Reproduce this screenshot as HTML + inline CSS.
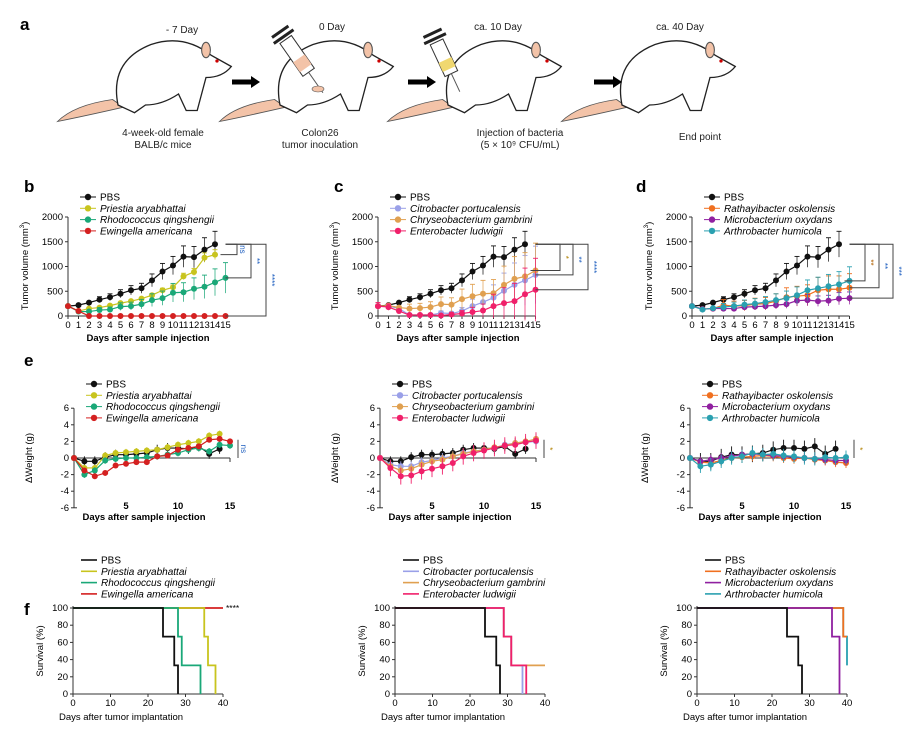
<!DOCTYPE html>
<html><head><meta charset="utf-8"><style>
body{margin:0;background:#fff;}
svg{display:block;font-family:"Liberation Sans",Arial,sans-serif;}
</style></head><body>
<svg id="s" width="918" height="735" viewBox="0 0 918 735" xmlns="http://www.w3.org/2000/svg">
<rect width="918" height="735" fill="#fff"/>
<g font-weight="bold" font-size="17">
<text x="20" y="30">a</text><text x="24" y="192">b</text><text x="334" y="192">c</text><text x="636" y="192">d</text><text x="24" y="366">e</text><text x="24" y="615">f</text>
</g>
<g font-size="10" text-anchor="middle" fill="#222">
<text x="182" y="33">- 7 Day</text><text x="332" y="30">0 Day</text><text x="498" y="30">ca. 10 Day</text><text x="680" y="30">ca. 40 Day</text>
<text x="163" y="136">4-week-old  female</text><text x="163" y="148">BALB/c mice</text>
<text x="320" y="136">Colon26</text><text x="320" y="148">tumor inoculation</text>
<text x="520" y="136">Injection of bacteria</text><text x="520" y="148">(5 × 10⁹ CFU/mL)</text>
<text x="700" y="140">End point</text>
</g>
<g id="mice"></g>
</svg>
<script>
const s=document.getElementById('s');
function mouse(cx,cy){
 return `<g transform="translate(${cx},${cy}) scale(1.1)">
 <path d="M-5,25 Q-40,30 -55,45 Q-30,40 5,32z" fill="#f3c3a8" stroke="#555" stroke-width="0.8"/>
 <path d="M0,30 Q-8,-10 30,-25 Q60,-35 85,-15 L103,-5 Q95,5 80,5 L72,35 L62,35 L55,20 Q40,30 25,30 L15,37 Z" fill="#fff" stroke="#222" stroke-width="1.2"/>
 <ellipse cx="80" cy="-20" rx="4" ry="7" fill="#f3c3a8" stroke="#555"/>
 <circle cx="90" cy="-10" r="1.5" fill="#c00"/></g>`;
}
let m='';
m+=mouse(118,72)+mouse(280,72)+mouse(448,72)+mouse(622,72);
[[232,82],[408,82],[594,82]].forEach(([x,y])=>{m+=`<rect x="${x}" y="${y-2.5}" width="20" height="5" fill="#000"/><polygon points="${x+19},${y-6} ${x+28},${y} ${x+19},${y+6}" fill="#000"/>`});
m+=`<g transform="rotate(-35 300 60)"><rect x="293" y="35" width="14" height="40" fill="#fff" stroke="#333"/><rect x="293" y="58" width="14" height="12" fill="#f3c3a8"/><rect x="288" y="30" width="24" height="3" fill="#222"/><rect x="290" y="24" width="20" height="3" fill="#222"/><line x1="300" y1="75" x2="300" y2="100" stroke="#555"/></g><ellipse cx="318" cy="89" rx="6" ry="3" fill="#f3c3a8" stroke="#555" stroke-width=".6"/>`;
m+=`<g transform="rotate(-25 445 60)"><rect x="438" y="40" width="14" height="35" fill="#fff" stroke="#333"/><rect x="438" y="60" width="14" height="10" fill="#f0d870"/><rect x="433" y="35" width="24" height="3" fill="#222"/><rect x="435" y="29" width="20" height="3" fill="#222"/><line x1="445" y1="75" x2="445" y2="95" stroke="#555"/></g>`;
document.getElementById('mice').outerHTML=m;

const C={k:'#111',y:'#c8c41e',g:'#1aa878',r:'#d42020',p:'#9aa0e8',o:'#e0a050',m:'#f0206a',or:'#f07020',pu:'#9020a0',t:'#2aa0b0'};
let o='';
function txt(x,y,t,a,sz,extra){o+=`<text x="${x}" y="${y}" font-size="${sz||9}" text-anchor="${a||'middle'}" ${extra||''}>${t}</text>`;}
function legend(x,y,items,dots){items.forEach((it,i)=>{const yy=y+i*11.3;o+=`<line x1="${x}" y1="${yy}" x2="${x+16}" y2="${yy}" stroke="${it[1]}" stroke-width="${dots?1:1.6}"/>`;if(dots)o+=`<circle cx="${x+8}" cy="${yy}" r="3.2" fill="${it[1]}"/>`;txt(x+20,yy+3.5,it[0],'start',10,i?'font-style="italic"':'');});}
function vol(X,Y0,series,leg,br){
 const px=d=>X+d*10.5, py=v=>Y0-v*0.0495;
 o+=`<line x1="${X}" y1="${py(2000)}" x2="${X}" y2="${Y0}" stroke="#333"/><line x1="${X}" y1="${Y0}" x2="${px(15)}" y2="${Y0}" stroke="#333"/>`;
 [0,500,1000,1500,2000].forEach(v=>{o+=`<line x1="${X-3}" y1="${py(v)}" x2="${X}" y2="${py(v)}" stroke="#333"/>`;txt(X-5,py(v)+3,v,'end',9.5);});
 for(let d=0;d<=15;d++){o+=`<line x1="${px(d)}" y1="${Y0}" x2="${px(d)}" y2="${Y0+3}" stroke="#333"/>`;txt(px(d),Y0+12,d,'middle',9.5);}
 txt(X+80,Y0+25,'Days after sample injection','middle',9.5,'font-weight="bold"');
 o+=`<text transform="translate(${X-40},${Y0-50}) rotate(-90)" font-size="9.5" text-anchor="middle">Tumor volume (mm<tspan font-size="6" dy="-4">3</tspan><tspan dy="4">)</tspan></text>`;
 series.forEach(([c,vals,err])=>{let pts=vals.map((v,i)=>px(i)+','+py(v)).join(' ');
  vals.forEach((v,i)=>{const e=(err||0)*v*(i>2?1:0.3);if(e>5)o+=`<line x1="${px(i)}" y1="${py(v-e)}" x2="${px(i)}" y2="${py(v+e)}" stroke="${c}" stroke-width=".9" opacity=".8"/><line x1="${px(i)-2.5}" y1="${py(v+e)}" x2="${px(i)+2.5}" y2="${py(v+e)}" stroke="${c}" stroke-width=".9"/>`;});
  o+=`<polyline points="${pts}" fill="none" stroke="${c}" stroke-width="1.2"/>`;vals.forEach((v,i)=>o+=`<circle cx="${px(i)}" cy="${py(v)}" r="3" fill="${c}"/>`);});
 legend(X+12,Y0-119,leg,true);
 br.forEach(([v1,v2,xx,lab,col],i)=>{o+=`<polyline points="${px(15)},${py(v1)} ${xx},${py(v1)} ${xx},${py(v2)} ${px(15)+(i?0:-5)},${py(v2)}" fill="none" stroke="#444"/>`;o+=`<text transform="translate(${xx+3},${(py(v1)+py(v2))/2}) rotate(90)" font-size="8" text-anchor="middle" fill="${col}">${lab}</text>`;});
}
const PBS=[200,220,270,330,380,450,520,560,720,900,1020,1200,1190,1340,1450];
vol(68,316,[[C.k,PBS,.18],[C.y,[200,100,150,170,210,260,300,350,420,520,580,800,890,1180,1240],.08],[C.g,[200,90,90,120,130,190,200,240,320,360,470,480,550,590,680,770],.4],[C.r,[200,100,0,0,0,0,0,0,0,0,0,0,0,0,0,0],0]],
 [['PBS',C.k],['Priestia aryabhattai',C.y],['Rhodococcus qingshengii',C.g],['Ewingella americana',C.r]],
 [[1450,1240,237,'ns','#2060c0'],[1450,770,251,'**','#2060c0'],[1450,0,266,'****','#2060c0']]);
vol(378,316,[[C.k,PBS,.18],[C.p,[200,200,150,20,20,20,60,50,100,200,280,370,510,630,720,830],.7],[C.o,[200,210,170,150,160,180,240,230,340,400,450,460,630,750,800,920],.6],[C.m,[200,180,100,20,20,20,10,30,50,80,110,200,260,300,440,530],1.2]],
 [['PBS',C.k],['Citrobacter portucalensis',C.p],['Chryseobacterium gambrini',C.o],['Enterobacter ludwigii',C.m]],
 [[1450,920,560,'*','#b08000'],[1450,830,573,'**','#2060c0'],[1450,530,588,'****','#2060c0']]);
vol(692,316,[[C.k,PBS,.18],[C.or,[200,140,150,220,200,210,240,250,300,380,400,420,520,540,540,570],.5],[C.pu,[200,140,150,150,150,180,190,200,220,240,310,320,300,310,350,360],.35],[C.t,[200,130,160,180,200,230,250,280,320,360,420,520,560,600,640,710],.4]],
 [['PBS',C.k],['Rathayibacter oskolensis',C.or],['Microbacterium oxydans',C.pu],['Arthrobacter humicola',C.t]],
 [[1450,710,865,'**','#b06000'],[1450,570,879,'**','#2060c0'],[1450,360,893,'***','#2060c0']]);

function wt(X,Y0,series,leg,lab,col){
 const px=d=>X+d*10.4, py=v=>Y0-v*8.3;
 o+=`<line x1="${X}" y1="${py(6)}" x2="${X}" y2="${py(-6)}" stroke="#333"/><line x1="${X}" y1="${Y0}" x2="${px(15)}" y2="${Y0}" stroke="#333"/><line x1="${px(15)}" y1="${Y0}" x2="${px(15)}" y2="${Y0+4}" stroke="#333"/>`;
 [-6,-4,-2,0,2,4,6].forEach(v=>{o+=`<line x1="${X-3}" y1="${py(v)}" x2="${X}" y2="${py(v)}" stroke="#333"/>`;txt(X-5,py(v)+3,v,'end',9.5);});
 o+=`<line x1="${X}" y1="${py(-6)}" x2="${X+3}" y2="${py(-6)}" stroke="#333"/>`;
 [5,10,15].forEach(d=>txt(px(d),py(-6)+1,d,'middle',9.5,'font-weight="bold"'));
 txt(X+70,py(-6)+12,'Days after sample injection','middle',9.5,'font-weight="bold"');
 o+=`<text transform="translate(${X-42},${Y0}) rotate(-90)" font-size="9.5" text-anchor="middle">ΔWeight (g)</text>`;
 series.forEach(([c,vals,e])=>{vals.forEach((v,i)=>{if(i&&e)o+=`<line x1="${px(i)}" y1="${py(v-e)}" x2="${px(i)}" y2="${py(v+e)}" stroke="${c}" stroke-width=".9"/>`;});
  o+=`<polyline points="${vals.map((v,i)=>px(i)+','+py(v)).join(' ')}" fill="none" stroke="${c}" stroke-width="1.2"/>`;vals.forEach((v,i)=>o+=`<circle cx="${px(i)}" cy="${py(v)}" r="3" fill="${c}"/>`);});
 legend(X+12,Y0-74,leg,true);
 o+=`<line x1="${px(15)+8}" y1="${py(2.2)}" x2="${px(15)+8}" y2="${py(0)}" stroke="#444"/>`;
 o+=`<text transform="translate(${px(15)+11},${py(1.1)}) rotate(90)" font-size="8" text-anchor="middle" fill="${col}">${lab}</text>`;
}
const WP=[0,-.4,-.4,.1,.4,.4,.5,.6,1,1.2,1.2,1.1,1.4,.5,1.1];
wt(74,458,[[C.k,WP,.6],[C.y,[0,-1.2,-1.2,.3,.6,.7,.8,.9,1,1.3,1.6,1.8,2,2.7,2.9],.4],[C.g,[0,-2,-1.5,-.3,-.1,0,0,.1,.2,.4,.6,1,1.2,.8,1.6,1.5],.4],[C.r,[0,-1.5,-2.2,-1.8,-.9,-.7,-.5,-.5,.2,.3,1,1.2,1.4,2.2,2.3,2]]],
 [['PBS',C.k],['Priestia aryabhattai',C.y],['Rhodococcus qingshengii',C.g],['Ewingella americana',C.r]],'ns','#2060c0');
wt(380,458,[[C.k,WP,.6],[C.p,[0,-.8,-1,-1,-.5,-.3,0,.2,.6,.8,1,1.2,1.6,1.8,1.9,2],.6],[C.o,[0,-1,-1.5,-1.3,-.8,-.4,-.2,.2,.5,.8,1,1.3,1.5,1.8,2,2.3],.6],[C.m,[0,-1.2,-2.2,-2.1,-1.6,-1.3,-1,-.6,.2,.6,.9,1.2,1.5,1.6,1.9,2.1],1]],
 [['PBS',C.k],['Citrobacter portucalensis',C.p],['Chryseobacterium gambrini',C.o],['Enterobacter ludwigii',C.m]],'*','#b08000');
wt(690,458,[[C.k,WP,1],[C.or,[0,-.5,-.6,-.3,0,.1,.2,.3,.2,0,-.1,0,-.2,-.3,-.5,-.6],.6],[C.pu,[0,-.4,-.2,0,.2,.4,.5,.4,.3,.2,.1,0,-.1,-.2,-.3,-.3],.6],[C.t,[0,-1,-.8,-.4,0,.2,.6,.4,.5,.3,.2,0,-.1,.1,0,.1],.8]],
 [['PBS',C.k],['Rathayibacter oskolensis',C.or],['Microbacterium oxydans',C.pu],['Arthrobacter humicola',C.t]],'*','#b08000');

function surv(X,Y0,series,leg,stars){
 const px=d=>X+d*3.75, py=v=>Y0-v*0.86;
 o+=`<line x1="${X}" y1="${py(100)-2}" x2="${X}" y2="${Y0}" stroke="#333"/><line x1="${X}" y1="${Y0}" x2="${px(40)}" y2="${Y0}" stroke="#333"/>`;
 [0,20,40,60,80,100].forEach(v=>{o+=`<line x1="${X-3}" y1="${py(v)}" x2="${X}" y2="${py(v)}" stroke="#333"/>`;txt(X-5,py(v)+3,v,'end',9.5);});
 [0,10,20,30,40].forEach(d=>{o+=`<line x1="${px(d)}" y1="${Y0}" x2="${px(d)}" y2="${Y0+3}" stroke="#333"/>`;txt(px(d),Y0+12,d,'middle',9.5);});
 txt(X+48,Y0+26,'Days after tumor implantation','middle',9.5);
 o+=`<text transform="translate(${X-30},${Y0-43}) rotate(-90)" font-size="9.5" text-anchor="middle">Survival (%)</text>`;
 series.forEach(([c,steps])=>{let d='M'+px(0)+','+py(100);let v=100;steps.forEach(([t,nv])=>{d+=` L${px(t)},${py(v)} L${px(t)},${py(nv)}`;v=nv;});d+=` L${px(40)},${py(v)}`;if(v==0)d=d.replace(/ L[^ ]+$/,'');o+=`<path d="${d}" fill="none" stroke="${c}" stroke-width="1.8"/>`;});
 legend(X+8,Y0-134,leg,false);
 if(stars)txt(px(40)+3,py(100)+3,'****','start',8.5);
}
const SP=[C.k,[[24,66.7],[27,33.3],[28,0]]];
surv(73,694,[[C.r,[]],[C.y,[[35,66.7],[36,33.3],[38,0]]],[C.g,[[28,66.7],[29,33.3],[34,0]]],SP],
 [['PBS',C.k],['Priestia aryabhattai',C.y],['Rhodococcus qingshengii',C.g],['Ewingella americana',C.r]],true);
surv(395,694,[[C.o,[[29,66.7],[31,33.3]]],[C.p,[[29,66.7],[31,33.3],[34,0]]],[C.m,[[29,66.7],[31,33.3],[35,0]]],SP],
 [['PBS',C.k],['Citrobacter portucalensis',C.p],['Chryseobacterium gambrini',C.o],['Enterobacter ludwigii',C.m]],false);
surv(697,694,[[C.t,[[39,66.7],[40,33.3]]],[C.or,[[39,66.7]]],[C.pu,[[36,66.7],[38,0]]],SP],
 [['PBS',C.k],['Rathayibacter oskolensis',C.or],['Microbacterium oxydans',C.pu],['Arthrobacter humicola',C.t]],false);
s.insertAdjacentHTML('beforeend',o);
</script>
</body></html>
